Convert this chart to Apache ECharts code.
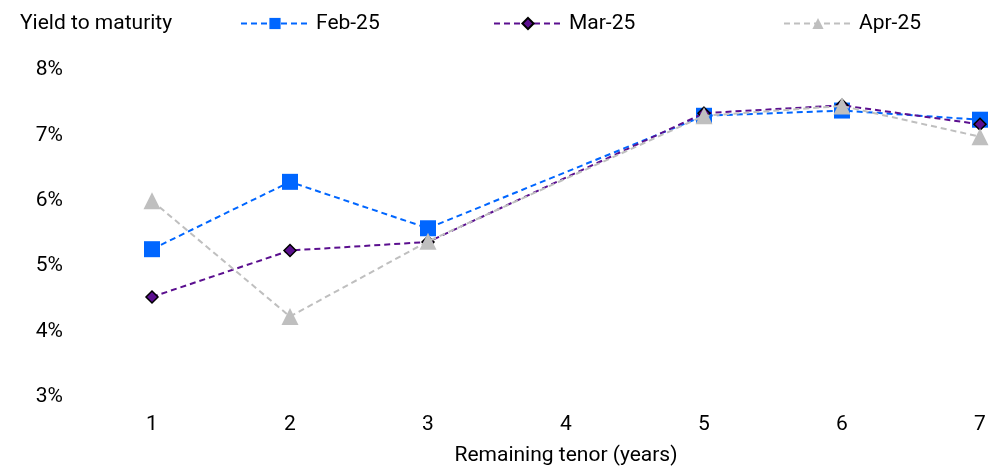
<!DOCTYPE html>
<html>
<head>
<meta charset="utf-8">
<script src="https://cdn.jsdelivr.net/npm/echarts@6/dist/echarts.min.js"></script>
<style>
  html, body { margin: 0; padding: 0; background: #fff; }
  #chart { width: 991px; height: 466px; }
</style>
</head>
<body>
<div id="chart"></div>
<script>
// Remaining tenor in years (x) and yield to maturity in % (y)
const tenors = [1, 2, 3, 5, 6, 7];
const feb25 = [5.26, 6.29, 5.58, 7.30, 7.38, 7.24];
const mar25 = [4.53, 5.24, 5.37, 7.34, 7.46, 7.17];
const apr25 = [6.00, 4.23, 5.38, 7.30, 7.45, 6.98];
const yTicks = [3, 4, 5, 6, 7, 8];

const FONT = 'Roboto';
const FS = 21;
const pairs = vals => tenors.map((t, i) => [t, vals[i]]);

const chart = echarts.init(document.getElementById('chart'), null, { renderer: 'canvas' });

function legendAt(name, left) {
  return {
    data: [name],
    left: left,
    top: 8,
    itemWidth: 68,
    itemHeight: 14,
    itemGap: 0,
    textStyle: { fontFamily: FONT, fontSize: FS, color: '#000', padding: [0, 0, 0, 2] }
  };
}

chart.setOption({
  animation: false,
  backgroundColor: '#fff',
  title: {
    text: 'Yield to maturity',
    left: 15,
    top: 8,
    textStyle: { fontFamily: FONT, fontSize: FS, fontWeight: 'normal', color: '#000' }
  },
  legend: [
    legendAt('Feb-25', 235),
    legendAt('Mar-25', 488),
    legendAt('Apr-25', 778)
  ],
  grid: { left: 14, right: 11, top: 70, bottom: 69, containLabel: false },
  xAxis: {
    type: 'value',
    min: 0,
    max: 7,
    interval: 1,
    axisLine: { show: false },
    axisTick: { show: false },
    splitLine: { show: false },
    axisLabel: {
      margin: 17,
      fontFamily: FONT,
      fontSize: FS,
      color: '#000',
      formatter: v => (v >= 1 ? String(v) : '')
    }
  },
  yAxis: {
    type: 'value',
    min: yTicks[0],
    max: yTicks[yTicks.length - 1],
    interval: 1,
    axisLine: { show: false },
    axisTick: { show: false },
    splitLine: { show: false },
    axisLabel: {
      margin: -49,
      padding: [5, 0, 0, 0],
      fontFamily: FONT,
      fontSize: FS,
      color: '#000',
      formatter: v => v + '%'
    }
  },
  graphic: [{
    type: 'text',
    x: 566,
    y: 456,
    style: {
      text: 'Remaining tenor (years)',
      fontFamily: FONT,
      fontSize: FS,
      fill: '#000',
      align: 'center',
      verticalAlign: 'middle'
    }
  }],
  series: [
    {
      name: 'Feb-25',
      type: 'line',
      data: pairs(feb25),
      symbol: 'rect',
      symbolSize: 16,
      z: 3,
      lineStyle: { color: '#0066FF', width: 2, type: [6, 4] },
      itemStyle: { color: '#0066FF', borderColor: '#0066FF', borderWidth: 0 }
    },
    {
      name: 'Mar-25',
      type: 'line',
      data: pairs(mar25),
      symbol: 'diamond',
      symbolSize: 12,
      z: 4,
      lineStyle: { color: '#5B0F8F', width: 2, type: [6, 4] },
      itemStyle: { color: '#5B0F8F', borderColor: '#000', borderWidth: 1.5 }
    },
    {
      name: 'Apr-25',
      type: 'line',
      data: pairs(apr25),
      symbol: 'triangle',
      symbolSize: 17,
      z: 5,
      lineStyle: { color: '#BFBFBF', width: 2, type: [6, 4] },
      itemStyle: { color: '#BFBFBF', borderWidth: 0 }
    }
  ]
});
</script>
</body>
</html>
